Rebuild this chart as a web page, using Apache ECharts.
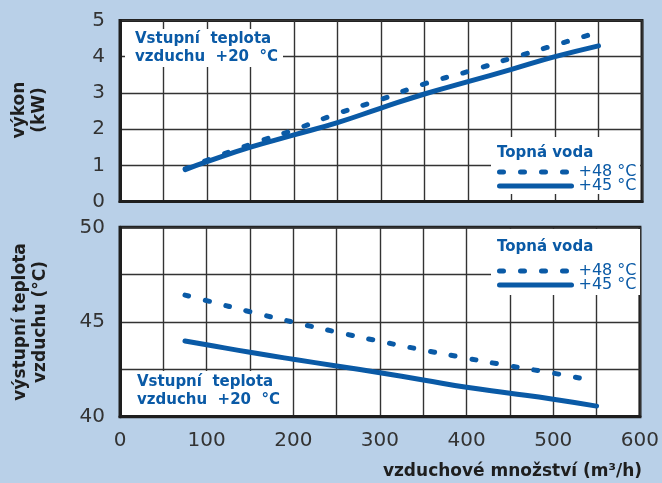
<!DOCTYPE html>
<html><head><meta charset="utf-8">
<script src="https://cdn.jsdelivr.net/npm/echarts@6/dist/echarts.min.js"></script>
<style>html,body{margin:0;padding:0;background:#b9d0e8;}#c{width:662px;height:483px;}</style>
</head><body><div id="c"></div>
<script>
// Air flow (m3/h)
const airflow = [75, 100, 150, 200, 250, 300, 350, 400, 450, 500, 550];
const airflowOut48 = [75, 100, 150, 200, 250, 300, 350, 400, 450, 500, 540];
// Output (kW)
const power48 = [0.90, 1.14, 1.58, 1.98, 2.43, 2.82, 3.25, 3.59, 3.96, 4.32, 4.68];
const power45 = [0.88, 1.10, 1.50, 1.84, 2.18, 2.58, 2.97, 3.31, 3.65, 4.00, 4.30];
// Outlet air temperature (°C)
const temp48 = [46.42, 46.13, 45.54, 44.99, 44.47, 43.98, 43.52, 43.09, 42.68, 42.30, 41.96];
const temp45 = [44.00, 43.80, 43.40, 43.03, 42.68, 42.32, 41.94, 41.55, 41.24, 40.92, 40.56];
const xTicks = [0, 100, 200, 300, 400, 500, 600];
const yTicksPower = [0, 1, 2, 3, 4, 5];
const yTicksTemp = [40, 45, 50];
const name48 = '+48 °C', name45 = '+45 °C';

const BLUE = '#0a5aa6';
const DARK = '#1e1e1e';
const pairs = (xs, ys) => xs.map((x, i) => [x, ys[i]]);

const chart = echarts.init(document.getElementById('c'));
const gridLine = { show: true, lineStyle: { color: '#333', width: 1.4 } };
const frameLine = { show: true, lineStyle: { color: DARK, width: 3 } };
const tickFont = { color: '#333', fontSize: 20, fontFamily: 'DejaVu Sans' };

function xAxis(gi, showLabels) {
  return {
    type: 'value', gridIndex: gi, min: 0, max: 600, interval: 50,
    axisLine: frameLine, axisTick: { show: false }, splitLine: gridLine,
    axisLabel: Object.assign({ show: showLabels, margin: 14,
      formatter: v => xTicks.includes(v) ? String(v) : '' }, tickFont)
  };
}
const lineDashed = { color: BLUE, width: 5, type: [4, 17], cap: 'round' };
const lineSolid = { color: BLUE, width: 5, cap: 'round' };
const legendBase = { orient: 'vertical', itemWidth: 72, itemHeight: 12, itemGap: -2, z: 50, padding: 0,
  selectedMode: false, data: [name48, name45],
  itemStyle: { opacity: 0 },
  lineStyle: { width: 5, cap: 'round' },
  textStyle: { color: BLUE, fontSize: 16, fontFamily: 'DejaVu Sans', padding: [0, 0, 0, 2] } };

chart.setOption({
  backgroundColor: '#b9d0e8',
  animation: false,
  grid: [
    { left: 120, top: 20.5, width: 522, height: 181, show: true, backgroundColor: '#fff', borderColor: DARK, borderWidth: 3 },
    { left: 120, top: 227.3, width: 522, height: 189.4, show: true, backgroundColor: '#fff', borderColor: DARK, borderWidth: 3 }
  ],
  xAxis: [xAxis(0, false), xAxis(1, true)],
  yAxis: [
    { type: 'value', gridIndex: 0, min: 0, max: 5, interval: 1,
      axisLine: frameLine, axisTick: { show: false }, splitLine: gridLine,
      axisLabel: Object.assign({ margin: 15, formatter: v => yTicksPower.includes(v) ? String(v) : '' }, tickFont) },
    { type: 'value', gridIndex: 1, min: 40, max: 50, interval: 2.5,
      axisLine: frameLine, axisTick: { show: false }, splitLine: gridLine,
      axisLabel: Object.assign({ margin: 15, formatter: v => yTicksTemp.includes(v) ? String(v) : '' }, tickFont) }
  ],
  legend: [
    Object.assign({ left: 497, top: 164 }, legendBase),
    Object.assign({ left: 497, top: 263 }, legendBase)
  ],
  graphic: [
    // white patches behind annotations
    { type: 'rect', z: 10, shape: { x: 125, y: 29, width: 158, height: 38 }, style: { fill: '#fff' } },
    { type: 'rect', z: 10, shape: { x: 491, y: 137, width: 149, height: 57 }, style: { fill: '#fff' } },
    { type: 'rect', z: 10, shape: { x: 491, y: 229, width: 149, height: 66 }, style: { fill: '#fff' } },
    { type: 'rect', z: 10, shape: { x: 122, y: 371, width: 168, height: 44 }, style: { fill: '#fff' } },
    { type: 'text', z: 11, left: 135, top: 30, style: { text: 'Vstupní  teplota\nvzduchu  +20  °C', fill: BLUE,
      font: 'bold 15px "DejaVu Sans"', lineHeight: 18 } },
    { type: 'text', z: 11, left: 137, top: 373, style: { text: 'Vstupní  teplota\nvzduchu  +20  °C', fill: BLUE,
      font: 'bold 15px "DejaVu Sans"', lineHeight: 18 } },
    { type: 'text', z: 11, left: 497, top: 146, style: { text: 'Topná voda', fill: BLUE, font: 'bold 15px "DejaVu Sans"' } },
    { type: 'text', z: 11, left: 497, top: 240, style: { text: 'Topná voda', fill: BLUE, font: 'bold 15px "DejaVu Sans"' } },
    // axis titles
    { type: 'text', x: 30, y: 110, rotation: Math.PI / 2,
      style: { text: 'výkon\n(kW)', fill: DARK, font: 'bold 17px "DejaVu Sans"', align: 'center', verticalAlign: 'middle', lineHeight: 20 } },
    { type: 'text', x: 31, y: 322, rotation: Math.PI / 2,
      style: { text: 'výstupní teplota\nvzduchu (°C)', fill: DARK, font: 'bold 17px "DejaVu Sans"', align: 'center', verticalAlign: 'middle', lineHeight: 20 } },
    { type: 'text', x: 642, y: 472,
      style: { text: 'vzduchové množství (m³/h)', fill: DARK, font: 'bold 17px "DejaVu Sans"', align: 'right', verticalAlign: 'middle' } }
  ],
  series: [
    { name: name48, type: 'line', xAxisIndex: 0, yAxisIndex: 0, data: pairs(airflow, power48), showSymbol: false, symbol: 'none', smooth: true, color: BLUE, lineStyle: lineDashed, z: 3 },
    { name: name45, type: 'line', xAxisIndex: 0, yAxisIndex: 0, data: pairs(airflow, power45), showSymbol: false, symbol: 'none', smooth: true, color: BLUE, lineStyle: lineSolid, z: 4 },
    { name: name48, type: 'line', xAxisIndex: 1, yAxisIndex: 1, data: pairs(airflowOut48, temp48), showSymbol: false, symbol: 'none', smooth: true, color: BLUE, lineStyle: lineDashed, z: 3 },
    { name: name45, type: 'line', xAxisIndex: 1, yAxisIndex: 1, data: pairs(airflow, temp45), showSymbol: false, symbol: 'none', smooth: true, color: BLUE, lineStyle: lineSolid, z: 4 }
  ]
});
</script></body></html>
